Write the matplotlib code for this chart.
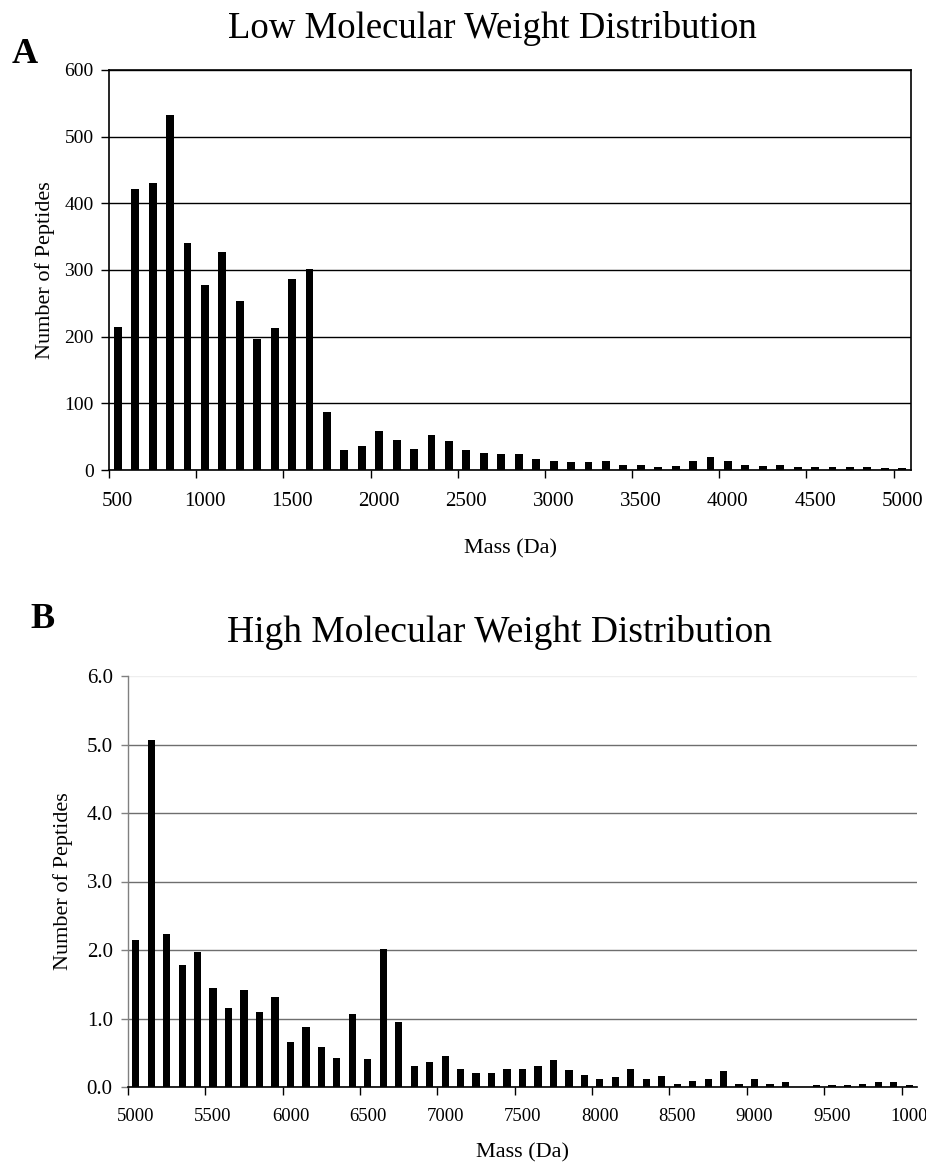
import numpy as np
import matplotlib
matplotlib.use("Agg")
import matplotlib.pyplot as plt
from matplotlib.ticker import FixedLocator, FixedFormatter, NullFormatter

plt.rcParams['font.family'] = ['Liberation Serif', 'DejaVu Serif']

# ---------------- data ----------------
low_mass = list(range(500, 5001, 100))          # categories (Da)
low_counts = [215, 421, 430, 532, 341, 278, 327, 254, 197, 213,
              286, 302, 87, 30, 36, 59, 45, 32, 52, 44,
              30, 26, 24, 24, 16, 14, 12, 12, 14, 8,
              8, 4, 6, 14, 20, 14, 8, 6, 8, 4,
              4, 4, 4, 4, 3, 3]
low_ticklabels = ['500', '1000', '1500', '2000', '2500', '3000',
                  '3500', '4000', '4500', '5000']

high_mass = list(range(5000, 10001, 100))       # categories (Da)
high_counts = [2.14, 5.07, 2.23, 1.78, 1.97, 1.44, 1.16, 1.41, 1.09, 1.31,
               0.66, 0.88, 0.59, 0.43, 1.07, 0.41, 2.02, 0.95, 0.30, 0.36,
               0.45, 0.27, 0.21, 0.21, 0.27, 0.27, 0.31, 0.40, 0.25, 0.18,
               0.12, 0.14, 0.27, 0.12, 0.16, 0.05, 0.09, 0.12, 0.23, 0.05,
               0.12, 0.05, 0.08, 0.00, 0.03, 0.03, 0.03, 0.05, 0.08, 0.08,
               0.03]
high_ticklabels = ['5000', '5500', '6000', '6500', '7000', '7500',
                   '8000', '8500', '9000', '9500', '1000']

W, H = 926, 1167
fig = plt.figure(figsize=(W / 100, H / 100), dpi=100)


def px_axes(left, top, right, bottom):
    return fig.add_axes([left / W, 1 - bottom / H, (right - left) / W, (bottom - top) / H])


def category_axis(ax, n, labels, step=5, fs=14, pad=17):
    ax.set_xlim(-0.5, n - 0.5)
    # tick marks on category boundaries, labels on category centres
    ax.xaxis.set_major_locator(FixedLocator(np.arange(-0.5, n - 0.5, step)))
    ax.xaxis.set_major_formatter(NullFormatter())
    ax.xaxis.set_minor_locator(FixedLocator(np.arange(0, n, step)))
    ax.xaxis.set_minor_formatter(FixedFormatter(labels))
    ax.tick_params(axis='x', which='major', length=6, width=1, direction='out')
    ax.tick_params(axis='x', which='minor', length=0, pad=pad, labelsize=fs)


# ---------------- panel A ----------------
axA = px_axes(109, 70, 911, 470)
xA = np.arange(len(low_mass))
axA.bar(xA, low_counts, width=0.45, color='black', zorder=3)
axA.set_ylim(0, 600)
axA.set_yticks(np.arange(0, 601, 100))
axA.yaxis.grid(True, color='black', linewidth=1.0, zorder=0)
axA.set_axisbelow(True)
for s in axA.spines.values():
    s.set_color('black')
    s.set_linewidth(1.2)
axA.tick_params(axis='y', length=6, width=1, pad=5, labelsize=14)
category_axis(axA, len(low_mass), low_ticklabels, fs=15, pad=16)
axA.set_ylabel('Number of Peptides', fontsize=16, va='center')
axA.yaxis.set_label_coords(-0.08, 0.5)
axA.set_xlabel('Mass (Da)', fontsize=16, va='top')
axA.xaxis.set_label_coords(0.5, -0.172)

fig.text(492 / W, 1 - 38 / H, 'Low Molecular Weight Distribution',
         fontsize=26.5, ha='center', va='baseline')
fig.text(12 / W, 1 - 63 / H, 'A', fontsize=26, fontweight='bold',
         ha='left', va='baseline')

# ---------------- panel B ----------------
axB = px_axes(128, 676, 917, 1087)
xB = np.arange(len(high_mass))
axB.bar(xB, high_counts, width=0.47, color='black', zorder=3)
axB.set_ylim(0, 6.0)
yt = np.arange(0, 6.01, 1.0)
axB.set_yticks(yt)
axB.set_yticklabels([f'{v:.1f}' for v in yt])
axB.yaxis.grid(True, color='#6e6e6e', linewidth=1.0, zorder=0)
axB.set_axisbelow(True)
gl = axB.get_ygridlines()
gl[-1].set_color('#eeeeee')
axB.spines['top'].set_visible(False)
axB.spines['right'].set_visible(False)
axB.spines['left'].set_color('#808080')
axB.spines['left'].set_linewidth(1.0)
axB.spines['bottom'].set_color('black')
axB.spines['bottom'].set_linewidth(1.2)
axB.tick_params(axis='y', length=5, width=1, color='#808080', pad=6, labelsize=15)
category_axis(axB, len(high_mass), high_ticklabels, fs=13.5, pad=15)
axB.set_ylabel('Number of Peptides', fontsize=16, va='center')
axB.yaxis.set_label_coords(-0.082, 0.5)
axB.set_xlabel('Mass (Da)', fontsize=16, va='top')
axB.xaxis.set_label_coords(0.5, -0.137)

fig.text(500 / W, 1 - 642 / H, 'High Molecular Weight Distribution',
         fontsize=27, ha='center', va='baseline')
fig.text(30 / W, 1 - 628 / H, 'B', fontsize=26, fontweight='bold',
         ha='left', va='baseline')

fig.savefig('out.png', dpi=100, facecolor='white')
